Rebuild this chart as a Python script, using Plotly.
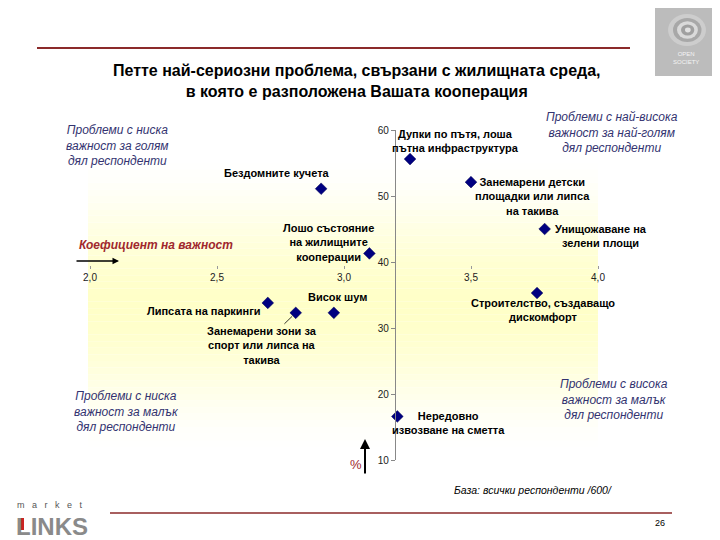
import plotly.graph_objects as go

# ---------------- data ----------------
problems = [
    "Бездомните кучета",
    "Дупки по пътя, лоша<br>пътна инфраструктура",
    "Занемарени детски<br>площадки или липса<br>на такива",
    "Унищожаване на<br>зелени площи",
    "Лошо състояние<br>на жилищните<br>кооперации",
    "Липсата на паркинги",
    "Занемарени зони за<br>спорт или липса на<br>такива",
    "Висок шум",
    "Строителство, създаващо<br>дискомфорт",
    "Нередовно<br>извозване на сметта",
]
importance = [2.91, 3.26, 3.50, 3.79, 3.10, 2.70, 2.81, 2.96, 3.76, 3.21]
share_pct = [51.1, 55.6, 52.1, 45.0, 41.3, 33.8, 32.3, 32.3, 35.3, 16.6]

x_ticks = [2.0, 2.5, 3.0, 3.5, 4.0]
y_ticks = [10, 20, 30, 40, 50, 60]

quadrant_texts = [
    "Проблеми с ниска<br>важност за голям<br>дял респонденти",
    "Проблеми с най-висока<br>важност за най-голям<br>дял респонденти",
    "Проблеми с ниска<br>важност за малък<br>дял респонденти",
    "Проблеми с висока<br>важност за малък<br>дял респонденти",
]

title_text = ("Петте най-сериозни проблема, свързани с жилищната среда,<br>"
              "в която е разположена Вашата кооперация")
x_axis_name = "Коефициент на важност"
y_axis_name = "%"
base_text = "База: всички респонденти /600/"
page_no = "26"

# ---------------- layout helpers ----------------
OFF = 8                      # page body margin of the browser
W, H = 720 - OFF, 540 - OFF
L, R, T, B = 90, 598, 130, 460  # plot area in window pixels


def PX(px):
    return (px - L) / (R - L)


def PY(py):
    return (B - py) / (B - T)


FONT = "Liberation Sans, Arial, sans-serif"

# label offsets (pixels): xshift, yshift
label_offsets = [(-44, 16), (45, 18), (61, -14), (56, -7), (-41, 11),
                 (-64, -8), (0, 0), (4, 16), (6, -17), (51, -7)]

fig = go.Figure()

fig.add_trace(go.Scatter(
    x=importance, y=share_pct, mode="markers",
    marker=dict(symbol="diamond", size=9, color="#000080",
                line=dict(color="#000050", width=0.5)),
    hoverinfo="skip", showlegend=False,
))

shapes = []
# vertical yellow gradient background over the plot area
N = 50
peak = (255, 255, 200)
for i in range(N):
    y0 = i / N
    y1 = (i + 1) / N
    yc = (y0 + y1) / 2
    t = 1 - abs(yc - 0.47) / 0.46
    t = max(0.0, min(1.0, t))
    t = t * t * (3 - 2 * t)
    c = tuple(int(round(255 * (1 - t) + p * t)) for p in peak)
    shapes.append(dict(type="rect", xref="paper", yref="paper",
                       x0=PX(88), x1=1, y0=y0, y1=y1,
                       fillcolor="rgb(%d,%d,%d)" % c, line=dict(width=0),
                       layer="below"))

# top and bottom red rules
shapes.append(dict(type="line", xref="paper", yref="paper",
                   x0=PX(37), x1=PX(630), y0=PY(48), y1=PY(48),
                   line=dict(color="#8B2A2A", width=2)))
shapes.append(dict(type="line", xref="paper", yref="paper",
                   x0=PX(110), x1=PX(672), y0=PY(513), y1=PY(513),
                   line=dict(color="#8B2A2A", width=1.5)))

# open society logo (top right)
shapes.append(dict(type="rect", xref="paper", yref="paper",
                   x0=PX(655), x1=PX(716), y0=PY(76), y1=PY(0),
                   fillcolor="#bcbcbc", line=dict(width=0)))
for r, col in [(20, "#cdcdcd"), (15, "#a8a8a8"), (11, "#dadada"), (7, "#a0a0a0"), (3, "#e2e2e2")]:
    shapes.append(dict(type="circle", xref="paper", yref="paper",
                       x0=PX(688 - r), x1=PX(688 + r * 0.9),
                       y0=PY(30 + r * 0.8), y1=PY(30 - r * 0.8),
                       fillcolor=col, line=dict(width=0)))
# market LINKS red accent
shapes.append(dict(type="rect", xref="paper", yref="paper",
                   x0=PX(18), x1=PX(24), y0=PY(530), y1=PY(518),
                   fillcolor="#cc2222", line=dict(width=0)))

annotations = []
# point labels
for i, (txt, xv, yv) in enumerate(zip(problems, importance, share_pct)):
    dx, dy = label_offsets[i]
    if i == 6:
        annotations.append(dict(x=xv, y=yv, xref="x", yref="y", text="<b>" + txt + "</b>",
                                showarrow=True, ax=-34, ay=33, arrowhead=0,
                                arrowwidth=0.8, arrowcolor="#000", standoff=5,
                                font=dict(family=FONT, size=11, color="#000")))
    else:
        annotations.append(dict(x=xv, y=yv, xref="x", yref="y", text="<b>" + txt + "</b>",
                                showarrow=False, xshift=dx, yshift=dy,
                                xanchor="center", yanchor="middle",
                                font=dict(family=FONT, size=11, color="#000")))

# quadrant captions
quad_pos = [(117, 145), (612, 132), (126, 411), (614, 399)]
for txt, (px, py) in zip(quadrant_texts, quad_pos):
    annotations.append(dict(x=PX(px), y=PY(py), xref="paper", yref="paper",
                            text="<i>" + txt + "</i>", showarrow=False,
                            xanchor="center", yanchor="middle",
                            font=dict(family=FONT, size=12, color="#333370")))

# title
annotations.append(dict(x=PX(357), y=PY(81), xref="paper", yref="paper",
                        text="<b>" + title_text + "</b>", showarrow=False,
                        xanchor="center", yanchor="middle",
                        font=dict(family=FONT, size=16, color="#000")))

# axis names with arrows
annotations.append(dict(x=PX(77), y=PY(245), xref="paper", yref="paper",
                        text="<b><i>" + x_axis_name + "</i></b>", showarrow=False,
                        xanchor="left", yanchor="middle",
                        font=dict(family=FONT, size=12, color="#A0282D")))
annotations.append(dict(x=PX(119), y=PY(261), xref="paper", yref="paper",
                        ax=-44, ay=0,
                        text="", showarrow=True, arrowhead=2, arrowsize=1,
                        arrowwidth=1.3, arrowcolor="#000"))
annotations.append(dict(x=PX(356), y=PY(464), xref="paper", yref="paper",
                        text=y_axis_name, showarrow=False,
                        xanchor="center", yanchor="middle",
                        font=dict(family=FONT, size=13, color="#A0282D")))
annotations.append(dict(x=PX(365), y=PY(439), xref="paper", yref="paper",
                        ax=0, ay=36,
                        text="", showarrow=True, arrowhead=2, arrowsize=1,
                        arrowwidth=2, arrowcolor="#000"))

# footer
annotations.append(dict(x=PX(452), y=PY(490), xref="paper", yref="paper",
                        text="<i>" + base_text + "</i>", showarrow=False,
                        xanchor="left", yanchor="middle",
                        font=dict(family=FONT, size=10.5, color="#000")))
annotations.append(dict(x=PX(660), y=PY(523), xref="paper", yref="paper",
                        text=page_no, showarrow=False,
                        xanchor="center", yanchor="middle",
                        font=dict(family=FONT, size=9, color="#000")))
annotations.append(dict(x=PX(15), y=PY(505), xref="paper", yref="paper",
                        text="m   a   r   k   e   t", showarrow=False,
                        xanchor="left", yanchor="middle",
                        font=dict(family=FONT, size=9, color="#555")))
annotations.append(dict(x=PX(14), y=PY(526), xref="paper", yref="paper",
                        text="<b>LINKS</b>", showarrow=False,
                        xanchor="left", yanchor="middle",
                        font=dict(family="Liberation Sans Narrow, Arial Narrow, sans-serif",
                                  size=24, color="#8a8a8a")))
annotations.append(dict(x=PX(686), y=PY(58), xref="paper", yref="paper",
                        text="OPEN<br>SOCIETY", showarrow=False,
                        xanchor="center", yanchor="middle",
                        font=dict(family=FONT, size=6, color="#f4f4f4")))

fig.update_layout(
    width=W, height=H,
    margin=dict(l=L - OFF, r=720 - R, t=T - OFF, b=540 - B, pad=0),
    paper_bgcolor="white", plot_bgcolor="rgba(0,0,0,0)",
    separators=", ",
    showlegend=False,
    shapes=shapes,
    annotations=annotations,
    xaxis=dict(range=[2, 4], domain=[0, 1], anchor="free",
               position=(39.6 - 10) / 50,
               tickvals=x_ticks, tickformat=".1f",
               showline=False, showgrid=False, zeroline=False,
               ticks="outside", ticklen=3, tickcolor="#999",
               tickfont=dict(family=FONT, size=10, color="#222")),
    yaxis=dict(range=[10, 60], domain=[0, 1], anchor="free",
               position=(3.2 - 2) / 2,
               tickvals=y_ticks, tickformat="d",
               showline=True, linecolor="#888", linewidth=1,
               showgrid=False, zeroline=False,
               ticks="outside", ticklen=4, tickcolor="#888",
               tickfont=dict(family=FONT, size=10, color="#222")),
)

fig.write_html("out.html")
